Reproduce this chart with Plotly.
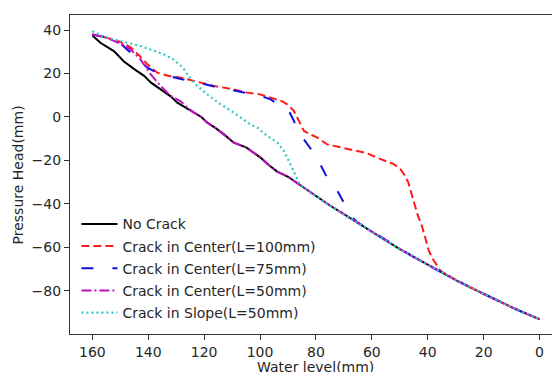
import plotly.graph_objects as go

# ---- data ----
no_crack_x = [160, 157, 152.3, 148.7, 145, 141.5, 139, 135.6, 132, 129.6, 126, 123.7, 121, 118.9,
              116, 112.9, 109.4, 105, 102, 99.8, 97, 94, 90, 87.9, 85, 80, 75, 70, 65, 60, 55,
              50, 45, 40, 35, 30, 25, 20, 15, 10, 5, 0]
no_crack_y = [37.5, 34, 30.3, 25.5, 22, 18.9, 15.8, 12.7, 9.5, 6.6, 4, 2, 0, -2.6,
              -5, -8, -11.8, -14, -16.5, -18.7, -22, -25, -27.5, -29.4, -32, -36.5, -40.7, -44.7,
              -48.6, -52.6, -56.8, -60.8, -64.4, -68, -71.6, -75, -78.2, -81.4, -84.6, -87.5, -90.3, -93]

c100_x = [160, 155, 150, 146.3, 143, 140.3, 136.8, 133, 128.4, 123.7, 120, 116.5, 110, 104.6, 100,
          96.2, 92, 90.3, 88, 86.7, 84.3, 81.5, 79.5, 76, 72, 67.6, 62, 58.1, 55, 52.2, 50, 48.5,
          47, 46.1, 44.5, 43.7, 42, 41.3, 39.6, 38, 36.5, 35.4, 33, 30.7, 28, 25, 20, 15, 10, 5, 0]
c100_y = [38, 36.5, 34.5, 32, 28, 24.2, 20.4, 19, 18.1, 16.6, 15.5, 14.3, 12.8, 11.2, 10.4,
          8.9, 7.2, 5.8, 3, -0.3, -6.4, -8.3, -9.5, -12.6, -13.8, -14.9, -16.6, -18.7, -20.2, -21.7,
          -23.6, -26.3, -30, -34, -40, -44.7, -50.5, -53.9, -61.6, -65.7, -69, -70.8, -72.7, -74.3,
          -76.5, -78.2, -81.4, -84.6, -87.5, -90.3, -93]

c75_x = [160, 155, 150, 147.6, 143, 140.3, 138, 133, 128.4, 123.7, 120, 116.5, 110, 104.6, 100,
         96.2, 92.7, 90, 88, 86.1, 82, 80, 76, 73.6, 69.4, 67.6, 65, 60, 55, 50, 45, 40, 35, 30,
         25, 20, 15, 10, 5, 0]
c75_y = [38, 36.5, 34, 31, 26, 22.7, 21.1, 19, 17.5, 16.3, 15.2, 14, 12.4, 10.8, 9.8,
         8.1, 5.1, 3.5, -1.5, -7.2, -14.1, -17.9, -27.9, -30.9, -40.9, -45.5, -48.6, -52.6, -56.8,
         -60.8, -64.4, -68, -71.6, -75, -78.2, -81.4, -84.6, -87.5, -90.3, -93]

c50_x = [160, 155, 152.3, 149, 146.3, 142.8, 139.1, 135.6, 132, 128.4, 126, 123.7, 121, 118.9,
         116, 112.9, 109.4, 105, 102, 99.8, 97, 94, 90, 87.9, 85, 80, 75, 70, 65, 60, 55,
         50, 45, 40, 35, 30, 25, 20, 15, 10, 5, 0]
c50_y = [38, 36.5, 35, 33.2, 31, 26.5, 19.6, 14.3, 9.7, 7.2, 4.3, 2, 0, -2.6,
         -5, -8, -11.8, -14, -16.5, -18.7, -22, -25, -27.5, -29.4, -32, -36.5, -40.7, -44.7,
         -48.6, -52.6, -56.8, -60.8, -64.4, -68, -71.6, -75, -78.2, -81.4, -84.6, -87.5, -90.3, -93]

slope_x = [160, 156, 152.3, 147, 142.8, 138, 134.4, 131, 129.6, 127.5, 126, 123.1, 118.9, 114.1,
           110, 107, 103.4, 101, 97.4, 93.8, 91.5, 89.7, 87.9, 86.1, 85, 80, 75, 70, 65, 60, 55,
           50, 45, 40, 35, 30, 25, 20, 15, 10, 5, 0]
slope_y = [39.5, 37, 35.7, 34, 32.6, 30.5, 28.8, 26.5, 25, 22.5, 19.6, 15, 10.4, 5.8,
           2.5, -0.3, -3.5, -4.9, -8.7, -11.8, -15.6, -20.2, -25.6, -30.2, -32, -36.5, -40.7, -44.7,
           -48.6, -52.6, -56.8, -60.8, -64.4, -68, -71.6, -75, -78.2, -81.4, -84.6, -87.5, -90.3, -93]

names = ["No Crack", "Crack in Center(L=100mm)", "Crack in Center(L=75mm)",
         "Crack in Center(L=50mm)", "Crack in Slope(L=50mm)"]
x_ticks = [160, 140, 120, 100, 80, 60, 40, 20, 0]
y_ticks = [40, 20, 0, -20, -40, -60, -80]

series = [(no_crack_x, no_crack_y), (c100_x, c100_y), (c75_x, c75_y),
          (c50_x, c50_y), (slope_x, slope_y)]
styles = [
    dict(color="#000000", width=2, dash="solid"),
    dict(color="#ff1a1a", width=2, dash="8px,4px"),
    dict(color="#1010e0", width=2, dash="12px,19px"),
    dict(color="#c010c0", width=2, dash="10px,3px,2px,3px"),
    dict(color="#30c8c8", width=2.2, dash="2px,3px"),
]

FONT = "DejaVu Sans"
fig = go.Figure()
for i, ((xs, ys), nm, st) in enumerate(zip(series, names, styles)):
    fig.add_trace(go.Scatter(x=xs, y=ys, mode="lines", name=nm, line=st,
                             legendgroup=f"g{i}"))

axis_common = dict(showline=True, linecolor="#333333", linewidth=1.3, ticks="outside",
                   ticklen=5, tickwidth=1.3, tickcolor="#333333", showgrid=False,
                   zeroline=False, tickfont=dict(family=FONT, size=14, color="#262626"))

fig.update_layout(
    width=552, height=372,
    margin=dict(l=70, r=0, t=15, b=38),
    paper_bgcolor="white", plot_bgcolor="white",
    showlegend=True,
    legend=dict(x=0.0133, y=0.394, xanchor="left", yanchor="top",
                bgcolor="rgba(0,0,0,0)", tracegroupgap=1, itemwidth=36,
                font=dict(family=FONT, size=14, color="#262626")),
    xaxis=dict(range=[168, -4.45], tickvals=x_ticks, mirror=True, **axis_common),
    yaxis=dict(range=[-99.8, 46.9], tickvals=y_ticks, **axis_common),
    annotations=[
        dict(text="Water level(mm)", xref="paper", yref="paper", x=(315 - 70) / 482,
             y=-0.104, xanchor="center", yanchor="middle", showarrow=False,
             font=dict(family=FONT, size=14, color="#262626")),
        dict(text="Pressure Head(mm)", xref="paper", yref="paper", x=-0.108, y=0.5,
             textangle=-90, xanchor="center", yanchor="middle", showarrow=False,
             font=dict(family=FONT, size=14, color="#262626")),
    ],
)

fig.write_html("out.html", config={"displayModeBar": False},
               post_script="document.body.style.margin='0';document.body.style.overflow='hidden';")
